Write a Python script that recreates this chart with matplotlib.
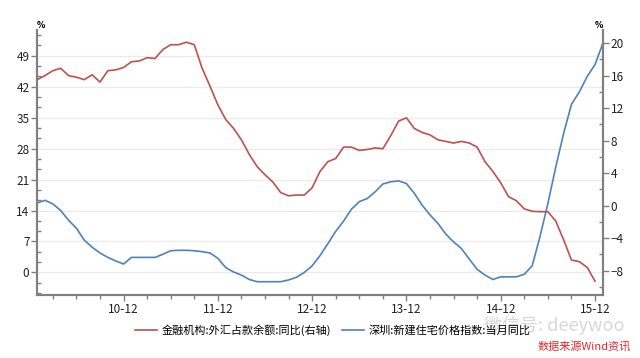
import numpy as np
import matplotlib.pyplot as plt
from matplotlib.lines import Line2D

plt.rcParams['font.family'] = ['Noto Sans CJK SC', 'DejaVu Sans']

# monthly data, Jan 2010 onwards
# 金融机构:外汇占款余额:同比 (右轴), Jan 2010 - Dec 2015
fx_yoy = [15.5, 16.0, 16.6, 16.9, 16.0, 15.8, 15.5, 16.1, 15.2, 16.6, 16.7, 17.0,
          17.7, 17.8, 18.2, 18.1, 19.2, 19.8, 19.8, 20.1, 19.8, 16.9, 14.7, 12.4,
          10.6, 9.5, 8.1, 6.3, 4.8, 3.8, 2.9, 1.6, 1.2, 1.3, 1.3, 2.2,
          4.2, 5.4, 5.8, 7.2, 7.2, 6.8, 6.9, 7.1, 7.0, 8.6, 10.4, 10.8,
          9.5, 9.0, 8.7, 8.1, 7.9, 7.7, 7.9, 7.7, 7.2, 5.4, 4.2, 2.8,
          1.1, 0.6, -0.4, -0.7, -0.75, -0.75, -1.9, -4.2, -6.7, -6.9, -7.6, -9.3]
# 深圳:新建住宅价格指数:当月同比, Jan 2010 - Jan 2016
sz_price_yoy = [15.7, 16.3, 15.5, 14.0, 11.8, 10.0, 7.3, 5.7, 4.4, 3.4, 2.6, 1.9,
                3.4, 3.4, 3.4, 3.4, 4.1, 4.9, 5.0, 5.0, 4.9, 4.7, 4.4, 3.2,
                1.1, 0.1, -0.6, -1.6, -2.1, -2.1, -2.1, -2.1, -1.7, -1.1, 0.0, 1.5,
                3.8, 6.5, 9.3, 11.6, 14.3, 16.0, 16.7, 18.2, 20.0, 20.5, 20.7, 20.1,
                17.9, 15.2, 13.0, 11.1, 8.7, 6.9, 5.4, 3.0, 0.7, -0.6, -1.6, -1.0,
                -1.0, -1.0, -0.4, 1.5, 8.1, 15.6, 23.8, 31.4, 38.0, 40.8, 44.3, 47.0, 51.8]

xtick_pos = [11, 23, 35, 47, 59, 71]
xtick_labels = ['10-12', '11-12', '12-12', '13-12', '14-12', '15-12']
left_ticks = [0, 7, 14, 21, 28, 35, 42, 49]
right_ticks = [-8, -4, 0, 4, 8, 12, 16, 20]

red = '#C0504D'
blue = '#4F81BD'
spine_c = '#808080'

fig = plt.figure(figsize=(6.4, 3.58), dpi=100)
ax = fig.add_axes([0.058, 0.176, 0.884, 0.740])
ax2 = ax.twinx()

ax.plot(np.arange(len(sz_price_yoy)), sz_price_yoy, color=blue, lw=1.2, zorder=3)
ax2.plot(np.arange(len(fx_yoy)), fx_yoy, color=red, lw=1.2, zorder=3)

ax.set_xlim(0, 72)
ax.set_xticks(xtick_pos)
ax.set_xticklabels(xtick_labels)
ax.set_xticks(np.arange(2, 72, 3), minor=True)
ax.set_yticks(left_ticks)
ax.set_yticks(np.arange(-14, 56, 7 / 3), minor=True)
ax.set_ylim(-5.1, 54.8)
ax2.set_yticks(right_ticks)
ax2.set_yticks(np.arange(-10, 22, 2), minor=True)
ax2.set_ylim(-11.0, 21.6)

ax.yaxis.grid(True, color='#ebebeb', lw=0.9)
ax.set_axisbelow(True)

for a in (ax, ax2):
    a.spines['top'].set_visible(False)
    for s in ('left', 'right', 'bottom'):
        a.spines[s].set_color(spine_c)
        a.spines[s].set_linewidth(1.5)
    a.tick_params(which='major', length=4, width=1, color=spine_c, labelsize=8.5,
                  labelcolor='#222222', pad=1.5)
    a.tick_params(which='minor', length=3, width=1, color=spine_c)
ax.tick_params(axis='y', which='minor', direction='in')
ax2.tick_params(axis='y', which='minor', direction='in')

ax.text(0.0, 1.0, '%', transform=ax.transAxes, fontsize=6, ha='left', va='bottom',
        family='DejaVu Sans', fontweight='bold')
ax2.text(1.0, 1.0, '%', transform=ax2.transAxes, fontsize=6, ha='right', va='bottom',
         family='DejaVu Sans', fontweight='bold')

handles = [Line2D([], [], color=red, lw=1.2), Line2D([], [], color=blue, lw=1.2)]
labels = ['金融机构:外汇占款余额:同比(右轴)', '深圳:新建住宅价格指数:当月同比']
fig.legend(handles, labels, loc='center', bbox_to_anchor=(0.52, 0.078), ncol=2,
           frameon=False, fontsize=8, handlelength=2.0, columnspacing=1.0,
           handletextpad=0.4)

fig.text(0.985, 0.018, '数据来源Wind资讯', color='#e8262a', fontsize=8, style='italic',
         ha='right', va='bottom')
fig.text(0.975, 0.092, '微信号: deeywoo', color='#bdbdbd', fontsize=13, alpha=0.6,
         ha='right', va='center')

fig.savefig('out.png', dpi=100)
